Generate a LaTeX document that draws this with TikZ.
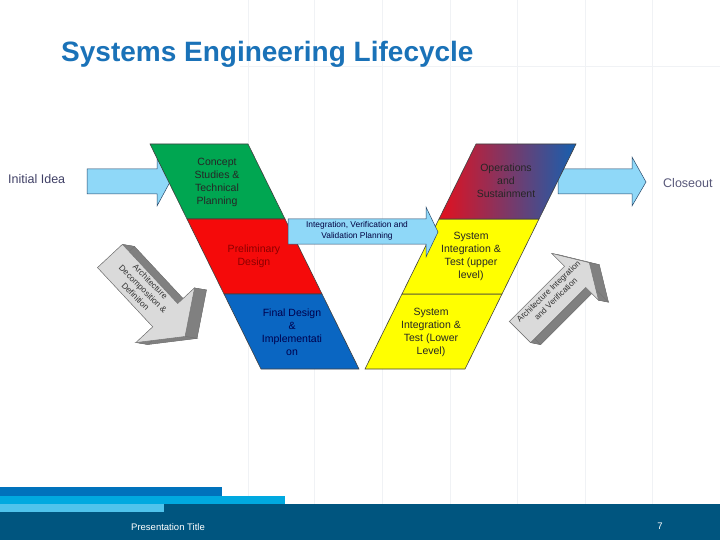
\documentclass[tikz,border=0pt]{standalone}
\usepackage{fontspec}
\setmainfont{Liberation Sans}
\usetikzlibrary{calc}
\definecolor{setitle}{HTML}{1A72B8}
\definecolor{segreen}{HTML}{00A651}
\definecolor{sered}{HTML}{F50A0A}
\definecolor{seblue}{HTML}{0A66C2}
\definecolor{seyellow}{HTML}{FFFF00}
\definecolor{seopsred}{HTML}{E3101E}
\definecolor{seopsblue}{HTML}{1560B0}
\definecolor{sesky}{HTML}{8FD8F8}
\definecolor{seskyline}{HTML}{2B4A6B}
\definecolor{segrayface}{HTML}{DADADA}
\definecolor{segrayside}{HTML}{808080}
\definecolor{sefooter}{HTML}{00557F}
\definecolor{sestripeA}{HTML}{0072BC}
\definecolor{sestripeB}{HTML}{00A9E0}
\definecolor{sestripeC}{HTML}{4FC3EC}
\definecolor{segrid}{HTML}{F0F2F5}
\tikzset{
  phase/.style={draw=black!75, line width=0.6pt},
  phasetext/.style={align=center, font=\fontsize{10.5}{13}\selectfont, inner sep=0pt},
  skyarrow/.style={fill=sesky, draw=seskyline, line width=0.5pt},
  sidetext/.style={font=\fontsize{12.5}{15}\selectfont, inner sep=0pt},
  grayface/.style={fill=segrayface, draw=black!55, line width=0.4pt},
  grayside/.style={fill=segrayside, draw=black!55, line width=0.4pt},
  graytext/.style={align=center, font=\fontsize{8.4}{10.5}\selectfont, text=black!80, inner sep=0pt}
}

\begin{document}
\begin{tikzpicture}[x=1pt, y=-1pt]
  \useasboundingbox (0,0) rectangle (720,540);
  \fill[white] (0,0) rectangle (720,540);

  % faint slide grid
  \foreach \gx in {248,314,382,450,517,585,652}
    \draw[segrid, line width=1pt] (\gx,0) -- (\gx,504);
  \draw[segrid, line width=1pt] (240,67) -- (720,67);

  \node[anchor=base west, inner sep=0pt, text=setitle, font=\fontsize{28}{32}\selectfont\bfseries] (title) at (61,62) {Systems Engineering Lifecycle};

  % entry and exit arrows
  \filldraw[skyarrow] (87,169) -- (157,169) -- (157,158) -- (170,182) -- (157,206) -- (157,194) -- (87,194) -- cycle;
  \filldraw[skyarrow] (558,169) -- (632,169) -- (632,157) -- (646,182) -- (632,206) -- (632,194) -- (558,194) -- cycle;
  \node[sidetext, anchor=west, text=blue!20!black!75] (idea) at (8,179) {Initial Idea};
  \node[sidetext, anchor=west, text=blue!20!black!65] (closeout) at (663,183) {Closeout};

  % left leg of the V
  \filldraw[phase, fill=segreen] (150,144) -- (248,144) -- (285,219) -- (187,219) -- cycle;
  \filldraw[phase, fill=sered] (187,219) -- (285,219) -- (322,294) -- (224,294) -- cycle;
  \filldraw[phase, fill=seblue] (224,294) -- (322,294) -- (359,369) -- (261,369) -- cycle;

  % right leg of the V
  \filldraw[phase, fill=seyellow] (365,369) -- (465,369) -- (502,294) -- (402,294) -- cycle;
  \filldraw[phase, fill=seyellow] (402,294) -- (502,294) -- (539,219) -- (439,219) -- cycle;
  \path[phase, left color=seopsred, right color=seopsblue] (439,219) -- (539,219) -- (576,144) -- (476,144) -- cycle;

  \node[phasetext, text=black!85] (concept) at (217,182) {Concept\\Studies \&\\Technical\\Planning};
  \node[phasetext, text=red!55!black] (prelim) at (254,256) {Preliminary\\Design};
  \node[phasetext, text=blue!30!black] (finaldes) at (292,332) {Final Design\\\&\\Implementati\\on};
  \node[phasetext, text=black!85] (operations) at (506,181) {Operations\\and\\Sustainment};
  \node[phasetext, text=black!85] (situpper) at (471,256) {System\\Integration \&\\Test (upper\\level)};
  \node[phasetext, text=black!85] (sitlower) at (431,332) {System\\Integration \&\\Test (Lower\\Level)};

  % planning arrow across the V
  \filldraw[skyarrow] (288,219) -- (426,219) -- (426,207) -- (438,232) -- (426,257) -- (426,244) -- (288,244) -- cycle;
  \node[align=center, inner sep=0pt, font=\fontsize{8.4}{10.5}\selectfont, text=blue!25!black] (ivvtext) at (357,231) {Integration, Verification and\\Validation Planning};

  % decomposition arrow
  \begin{scope}[shift={(110,256)}, rotate=-47]
    \coordinate (ld1) at (0,-17);
    \coordinate (ld2) at (81,-17);
    \coordinate (ld3) at (81,-40);
    \coordinate (ld4) at (110,0);
    \coordinate (ld5) at (81,40);
    \coordinate (ld6) at (81,17);
    \coordinate (ld7) at (0,17);
  \end{scope}
  \fill[segrayside] ($(ld1)+(12,2)$) -- ($(ld2)+(12,2)$) -- ($(ld3)+(12,2)$) -- ($(ld4)+(12,2)$) -- ($(ld5)+(12,2)$) -- ($(ld6)+(12,2)$) -- ($(ld7)+(12,2)$) -- cycle;
  \foreach \p/\q in {ld1/ld2,ld2/ld3,ld3/ld4,ld4/ld5,ld5/ld6,ld6/ld7,ld7/ld1}
    \filldraw[grayside] (\p) -- (\q) -- ($(\q)+(12,2)$) -- ($(\p)+(12,2)$) -- cycle;
  \filldraw[grayface] (ld1) -- (ld2) -- (ld3) -- (ld4) -- (ld5) -- (ld6) -- (ld7) -- cycle;
  \node[graytext, rotate=-45] (archdec) at (143,289) {Architecture\\Decomposition \&\\Definition};

  % integration arrow
  \begin{scope}[shift={(520,332)}, rotate=45]
    \coordinate (ri1) at (0,-15);
    \coordinate (ri2) at (78,-15);
    \coordinate (ri3) at (78,-33);
    \coordinate (ri4) at (98,0);
    \coordinate (ri5) at (78,33);
    \coordinate (ri6) at (78,15);
    \coordinate (ri7) at (0,15);
  \end{scope}
  \fill[segrayside] ($(ri1)+(10,2)$) -- ($(ri2)+(10,2)$) -- ($(ri3)+(10,2)$) -- ($(ri4)+(10,2)$) -- ($(ri5)+(10,2)$) -- ($(ri6)+(10,2)$) -- ($(ri7)+(10,2)$) -- cycle;
  \foreach \p/\q in {ri1/ri2,ri2/ri3,ri3/ri4,ri4/ri5,ri5/ri6,ri6/ri7,ri7/ri1}
    \filldraw[grayside] (\p) -- (\q) -- ($(\q)+(10,2)$) -- ($(\p)+(10,2)$) -- cycle;
  \filldraw[grayface] (ri1) -- (ri2) -- (ri3) -- (ri4) -- (ri5) -- (ri6) -- (ri7) -- cycle;
  \node[graytext, rotate=44, font=\fontsize{8.2}{10.5}\selectfont] (archint) at (552,295) {Architecture Integration\\and Verification};

  % footer
  \fill[sestripeA] (0,487) rectangle (222,496);
  \fill[sestripeB] (0,496) rectangle (285,504);
  \fill[sefooter] (0,504) rectangle (720,540);
  \fill[sestripeC] (0,504) rectangle (164,512);
  \node[text=white, inner sep=0pt, font=\fontsize{9.5}{11}\selectfont] (pres) at (168,527) {Presentation Title};
  \node[text=white, inner sep=0pt, font=\fontsize{9.5}{11}\selectfont] (pagenum) at (660,526) {7};
\end{tikzpicture}
\end{document}
